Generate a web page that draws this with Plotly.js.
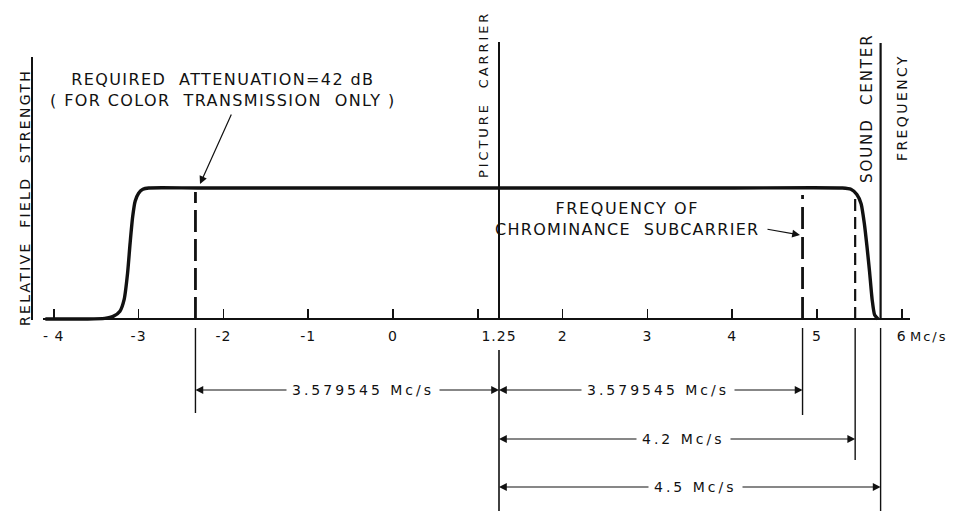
<!DOCTYPE html>
<html>
<head>
<meta charset="utf-8">
<script src="https://cdn.plot.ly/plotly-3.0.1.min.js"></script>
<style>
  html, body { margin: 0; padding: 0; background: #fff; }
  #chart { width: 956px; height: 511px; }
  .xtick text { letter-spacing: 1px; }
</style>
</head>
<body>
<div id="chart"></div>
<script>
// ---- Data (frequency in Mc/s relative to channel edge) ----
const freq = [-4.1, -3.6, -3.4, -3.3, -3.22, -3.17, -3.13, -3.1, -3.07, -3.04, -3.0, -2.95, -2.88,
              -2.3, 0, 2, 4, 5.3, 5.4, 5.47, 5.52, 5.56, 5.59, 5.62, 5.65, 5.68, 5.72];
const strength = [0, 0, 0.005, 0.02, 0.06, 0.15, 0.35, 0.58, 0.78, 0.9, 0.96, 0.99, 1.0,
                  1.0, 1.0, 1.0, 1.0, 1.0, 0.99, 0.95, 0.88, 0.72, 0.55, 0.36, 0.15, 0.03, 0];

const tickVals = [-4, -3, -2, -1, 0, 1, 1.25, 2, 3, 4, 5, 6];
const tickText = ['- 4', '-3', '-2', '-1', '0', '', '1.25', '2', '3', '4', '5', '6'];

const pictureCarrier = 1.25;        // Mc/s
const chromaOffset = 3.579545;      // Mc/s
const videoBandwidth = 4.2;         // Mc/s
const soundOffset = 4.5;            // Mc/s

const attenuationFreq = pictureCarrier - chromaOffset;   // lower chroma sideband
const chromaFreq = pictureCarrier + chromaOffset;
const videoEdgeFreq = pictureCarrier + videoBandwidth;
const soundFreq = pictureCarrier + soundOffset;

const dimensionLabels = ['3.579545 Mc/s', '3.579545 Mc/s', '4.2 Mc/s', '4.5 Mc/s'];
const dimensionFrom = [attenuationFreq, pictureCarrier, pictureCarrier, pictureCarrier];
const dimensionTo = [pictureCarrier, chromaFreq, videoEdgeFreq, soundFreq];

// ---- layout helpers (pixel geometry of the reference) ----
const W = 956, H = 511;
const X0PX = 393, PXU = 84.8;        // x = 0 at 393 px, 84.8 px per Mc/s
const BASEPX = 319, PYU = 131;       // strength 0 at 319 px, 131 px per unit
const xv = px => (px - X0PX) / PXU;
const yv = py => (BASEPX - py) / PYU;

const INK = '#111';
const FONT = 'DejaVu Sans, sans-serif';
const sp = (txt, ls) => '<span style="letter-spacing:' + ls + 'px">' + txt + '</span>';

const trace = {
  x: freq, y: strength, type: 'scatter', mode: 'lines',
  line: {color: INK, width: 3.4, shape: 'spline', smoothing: 0.6},
  hoverinfo: 'skip', showlegend: false
};

function vline(x, y0, y1, width, dash) {
  return {type: 'line', xref: 'x', yref: 'y', x0: x, x1: x, y0: y0, y1: y1,
          line: {color: INK, width: width, dash: dash || 'solid'}};
}

const shapes = [
  // picture carrier
  vline(pictureCarrier, 0, yv(42), 2),
  vline(pictureCarrier, yv(350), yv(H), 1.6),
  // sound carrier
  vline(soundFreq, 0, yv(43), 2.2),
  vline(soundFreq, yv(328), yv(H), 1.4),
  // required attenuation point (dashed) + extension
  vline(attenuationFreq, 0, yv(192), 2.8, '22px,7px'),
  vline(attenuationFreq, yv(328), yv(413), 1.4),
  // chrominance subcarrier (dashed) + extension
  vline(chromaFreq, 0, yv(195), 2.8, '22px,8px'),
  vline(chromaFreq, yv(328), yv(415), 1.4),
  // video band edge (dashed) + extension
  vline(videoEdgeFreq, 0, yv(193), 2.2, '12px,6px'),
  vline(videoEdgeFreq, yv(328), yv(460), 1.4),
  // left vertical axis line
  {type: 'line', xref: 'paper', yref: 'y', x0: 32 / W, x1: 32 / W, y0: yv(320), y1: yv(57),
   line: {color: INK, width: 2}}
];

const annotations = [];
const rowY = [yv(390), yv(390), yv(439), yv(487)];
const textX = [xv(363), xv(658), xv(683), xv(695)];
for (let i = 0; i < dimensionLabels.length; i++) {
  [dimensionFrom[i], dimensionTo[i]].forEach(tip => {
    annotations.push({
      x: tip, y: rowY[i], ax: textX[i], ay: rowY[i], axref: 'x', ayref: 'y',
      xref: 'x', yref: 'y', text: '', showarrow: true,
      arrowhead: 2, arrowsize: 1.3, arrowwidth: 1.2, arrowcolor: INK, standoff: 0
    });
  });
}
for (let i = 0; i < dimensionLabels.length; i++) {
  annotations.push({
    x: textX[i], y: rowY[i], xref: 'x', yref: 'y', text: sp(dimensionLabels[i], 3),
    showarrow: false, bgcolor: '#fff', borderpad: 5,
    font: {family: FONT, size: 14, color: INK}
  });
}

annotations.push(
  {x: xv(223), y: yv(90), xref: 'x', yref: 'y', showarrow: false,
   text: sp('REQUIRED  ATTENUATION=42 dB', 1.4) + '<br>' + sp('( FOR COLOR  TRANSMISSION  ONLY )', 1.4),
   font: {family: FONT, size: 16, color: INK}, align: 'center'},
  {x: xv(200), y: yv(184), ax: xv(232), ay: yv(113), axref: 'x', ayref: 'y',
   xref: 'x', yref: 'y', text: '', showarrow: true,
   arrowhead: 2, arrowsize: 1.3, arrowwidth: 1.2, arrowcolor: INK, standoff: 0},
  {x: xv(627), y: yv(219), xref: 'x', yref: 'y', showarrow: false,
   text: sp('FREQUENCY OF', 1.6) + '<br>' + sp('CHROMINANCE  SUBCARRIER', 1.3),
   font: {family: FONT, size: 16, color: INK}, align: 'center'},
  {x: xv(800), y: yv(235), ax: xv(766), ay: yv(229), axref: 'x', ayref: 'y',
   xref: 'x', yref: 'y', text: '', showarrow: true,
   arrowhead: 2, arrowsize: 1.3, arrowwidth: 1.2, arrowcolor: INK, standoff: 0},
  {x: xv(483), y: yv(95), xref: 'x', yref: 'y', showarrow: false, textangle: -90,
   text: sp('PICTURE  CARRIER', 2.9), font: {family: FONT, size: 13, color: INK}},
  {x: xv(867), y: yv(108), xref: 'x', yref: 'y', showarrow: false, textangle: -90,
   text: sp('SOUND  CENTER', 1.9), font: {family: FONT, size: 15, color: INK}},
  {x: xv(902), y: yv(108), xref: 'x', yref: 'y', showarrow: false, textangle: -90,
   text: sp('FREQUENCY', 2.4), font: {family: FONT, size: 14, color: INK}},
  {x: 15 / W, y: yv(198), xref: 'paper', yref: 'y', showarrow: false, textangle: -90,
   text: sp('RELATIVE  FIELD  STRENGTH', 2.3), font: {family: FONT, size: 14, color: INK}},
  {x: xv(908), y: yv(336), xref: 'x', yref: 'y', showarrow: false, xanchor: 'left',
   text: sp('Mc/s', 2), font: {family: FONT, size: 13, color: INK}}
);

const layout = {
  width: W, height: H,
  margin: {l: 0, r: 0, t: 0, b: 0, pad: 0},
  paper_bgcolor: '#fff', plot_bgcolor: '#fff',
  showlegend: false,
  xaxis: {
    domain: [43 / W, 910 / W],
    range: [xv(43), xv(910)],
    anchor: 'free', position: (H - BASEPX) / H,
    showline: true, linecolor: INK, linewidth: 2,
    showgrid: false, zeroline: false,
    ticks: 'inside', ticklen: 9, tickwidth: 1.5, tickcolor: INK,
    tickmode: 'array', tickvals: tickVals, ticktext: tickText,
    tickfont: {family: FONT, size: 14, color: INK},
    ticklabelstandoff: 4
  },
  yaxis: {
    domain: [0, 1], range: [yv(H), yv(0)],
    visible: false, showgrid: false, zeroline: false
  },
  shapes: shapes,
  annotations: annotations
};

Plotly.newPlot('chart', [trace], layout, {staticPlot: true, displayModeBar: false});
</script>
</body>
</html>
